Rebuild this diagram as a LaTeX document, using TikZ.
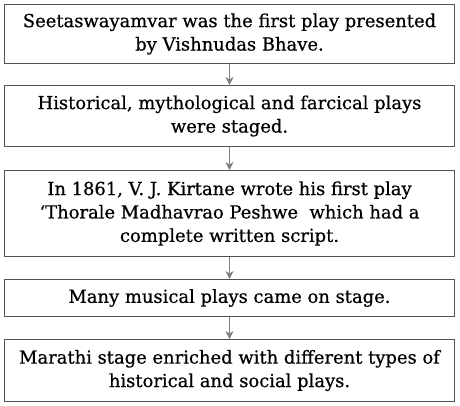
\documentclass[tikz,border=0pt]{standalone}
\usepackage{fontspec}
\setmainfont{DejaVu Serif}[BoldFont={DejaVu Serif},BoldFeatures={FakeBold=0.6}]
\usetikzlibrary{arrows.meta}
\tikzset{
  box/.style={draw=black!68, line width=1bp, minimum width=450bp, anchor=north,
    align=center, inner sep=0pt, font=\fontsize{18}{23.5}\selectfont\bfseries, text=black},
  arr/.style={draw=black!50, line width=1bp, -{Stealth[length=8bp,width=8bp,inset=2.5bp]}}
}
\begin{document}
\begin{tikzpicture}[x=1bp,y=-1bp]
\useasboundingbox (0,0) rectangle (460,405);
\node[box, minimum height=59bp] (b1) at (229.5,4) {Seetaswayamvar was the first play presented\\by Vishnudas Bhave.};
\node[box, minimum height=61bp] (b2) at (229.5,85) {Historical, mythological and farcical plays\\were staged.};
\node[box, minimum height=86bp] (b3) at (229.5,170) {In 1861, V. J. Kirtane wrote his first play\\‘Thorale Madhavrao Peshwe\ \ which had a\\complete written script.};
\node[box, minimum height=37bp] (b4) at (229.5,279) {Many musical plays came on stage.};
\node[box, minimum height=62bp] (b5) at (229.5,339) {Marathi stage enriched with different types of\\historical and social plays.};
\draw[arr] (b1.south) -- (b2.north);
\draw[arr] (b2.south) -- (b3.north);
\draw[arr] (b3.south) -- (b4.north);
\draw[arr] (b4.south) -- (b5.north);
\end{tikzpicture}
\end{document}
